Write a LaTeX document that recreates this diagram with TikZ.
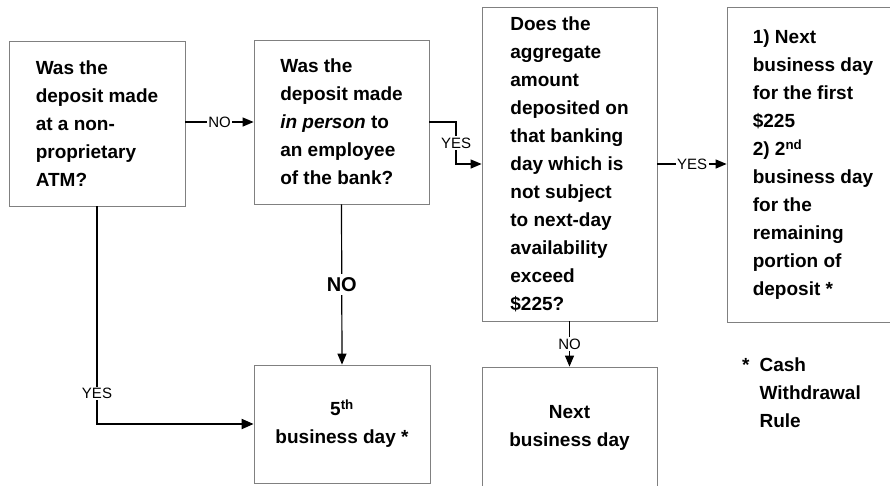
\documentclass[tikz,border=0pt]{standalone}
\usepackage{fontspec}
\setmainfont{Liberation Sans}
\usetikzlibrary{arrows.meta}
\begin{document}
\begin{tikzpicture}[x=1pt,y=-1pt,
  box/.style={draw=black!50,line width=0.8pt,inner sep=0pt,align=left,
    font=\fontsize{19}{28}\selectfont\bfseries},
  cbox/.style={box,align=center},
  conn/.style={draw=black,line width=1.2pt,-{Triangle[length=11pt,width=9pt]}},
  thick conn/.style={conn,line width=2pt,-{Triangle[length=12pt,width=10pt]}},
  lbl/.style={fill=white,inner sep=1.5pt,font=\fontsize{15}{17}\selectfont},
  biglbl/.style={fill=white,inner sep=3pt,font=\fontsize{20}{22}\selectfont\bfseries},
  fnote/.style={inner sep=0pt,align=left,font=\fontsize{19}{28}\selectfont\bfseries}]
\useasboundingbox (0,0) rectangle (890,485);
\fill[white] (0,0) rectangle (890,485);

\node[box,minimum width=176pt,minimum height=165pt] (b1) at (97,123.5)
  {Was the\\deposit made\\at a non-\\proprietary\\ATM?};
\node[box,minimum width=175pt,minimum height=164pt] (b2) at (341.5,122)
  {Was the\\deposit made\\\textit{in person} to\\an employee\\of the bank?};
\node[box,minimum width=175pt,minimum height=314pt] (b3) at (569.5,164)
  {Does the\\aggregate\\amount\\deposited on\\that banking\\day which is\\not subject\\to next-day\\availability\\exceed\\\$225?};
\node[box,minimum width=172pt,minimum height=315pt] (b4) at (813,164.5)
  {1) Next\\business day\\for the first\\\$225\\2) 2\textsuperscript{nd}\\business day\\for the\\remaining\\portion of\\deposit *};
\node[cbox,minimum width=176pt,minimum height=118pt] (b5) at (342,424)
  {5\textsuperscript{th}\\business day *};
\node[cbox,minimum width=175pt,minimum height=122pt] (b6) at (569.5,428)
  {Next\\business day};

\node[fnote,anchor=north west] (fn) at (742,352)
  {\begin{tabular}{@{}l@{\hspace{10pt}}l@{}}*&Cash\\&Withdrawal\\&Rule\end{tabular}};

\coordinate (k1) at (456,122);
\coordinate (k2) at (456,164);

\draw[conn] (b1.east |- b2.west) -- node[lbl]{NO} (b2.west);
\draw[conn] (b2.east) -- (k1) -- node[lbl]{YES} (k2) -- (b3.west);
\draw[conn] (b3.east) -- node[lbl]{YES} (b4.west |- b3.east);
\draw[conn] (b2.south) -- node[biglbl]{NO} (b5.north);
\draw[conn] (b3.south) -- node[lbl]{NO} (b6.north);
\draw[thick conn] (b1.south) -- node[lbl,pos=0.86]{YES} (b1.south |- b5.west) -- (b5.west);
\end{tikzpicture}
\end{document}
